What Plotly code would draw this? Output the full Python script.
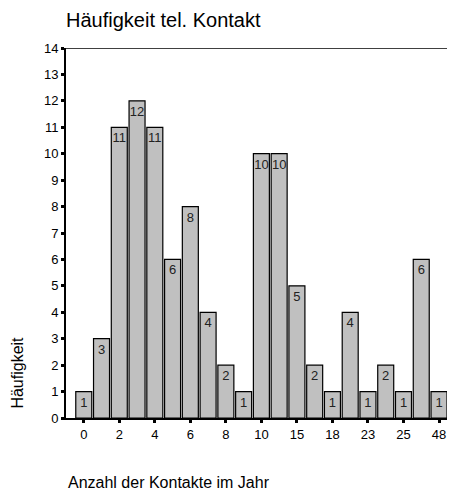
import plotly.graph_objects as go

# Anzahl der Kontakte (Kategorien, nur jede zweite beschriftet)
kontakte = ["0", "1", "2", "3", "4", "5", "6", "7", "8", "9", "10",
            "12", "15", "16", "18", "20", "23", "24", "25", "30", "48"]
haeufigkeit = [1, 3, 11, 12, 11, 6, 8, 4, 2, 1, 10, 10, 5, 2, 1, 4, 1, 2, 1, 6, 1]
tick_labels = kontakte[::2]

font = "Liberation Sans, Arial, sans-serif"

fig = go.Figure()
fig.add_trace(go.Bar(
    x=kontakte, y=haeufigkeit,
    text=haeufigkeit, textposition="inside", insidetextanchor="end",
    textangle=0, constraintext="none",
    textfont=dict(size=13, color="#222222", family=font),
    marker=dict(color="#c0c0c0", line=dict(color="black", width=1.2)),
    width=0.9,
))

# body hat 8px Rand -> Figur um 8px kleiner
fig.update_layout(
    width=447, height=482,
    margin=dict(l=58, r=0, t=40, b=72),
    plot_bgcolor="white", paper_bgcolor="white",
    font=dict(family=font, size=13, color="black"),
    showlegend=False,
    title=dict(text="Häufigkeit tel. Kontakt", x=58/447, xanchor="left",
               y=1-12/482, yanchor="middle", font=dict(size=20)),
    uniformtext=dict(minsize=8, mode="show"),
)
fig.update_xaxes(
    type="category", range=[-1.0, 20.9],
    tickmode="array", tickvals=tick_labels, ticktext=tick_labels,
    showline=True, linecolor="black", linewidth=2,
    ticks="outside", ticklen=3, tickwidth=3, tickcolor="black",
    showgrid=False, tickfont=dict(size=13),
)
fig.update_yaxes(
    range=[0, 14], dtick=1,
    showline=True, linecolor="black", linewidth=2,
    ticks="outside", ticklen=3, tickwidth=3, tickcolor="black",
    showgrid=False, zeroline=False, tickfont=dict(size=13),
)
# obere Rahmenlinie
fig.add_shape(type="line", xref="paper", yref="y", x0=0, x1=1, y0=14, y1=14,
              line=dict(color="black", width=1.5))

fig.add_annotation(text="Häufigkeit", xref="paper", yref="paper",
                   x=-48/389, y=0.02, xanchor="center", yanchor="bottom",
                   textangle=-90, showarrow=False, font=dict(size=16))
fig.add_annotation(text="Anzahl der Kontakte im Jahr", xref="paper", yref="paper",
                   x=0, y=-64/370, xanchor="left", yanchor="middle",
                   showarrow=False, font=dict(size=16))

fig.write_html("out.html")
